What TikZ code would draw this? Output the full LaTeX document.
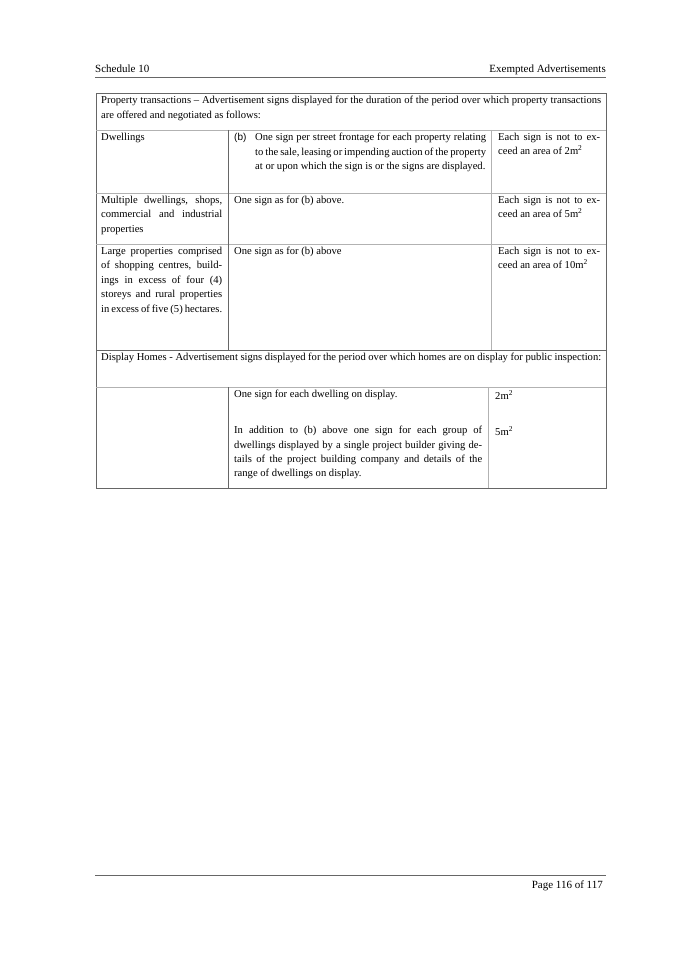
\documentclass[tikz,border=0pt]{standalone}
\usepackage{fontspec}
\setmainfont{Liberation Serif}
\newfontfamily\labelfont{Liberation Sans}
\usetikzlibrary{positioning}
\tikzset{Cell/.style = {anchor=north west, inner sep=0pt, align=justify, font=\fontsize{10.6}{14.4}\selectfont},
         Rule/.style = {draw=black!60, line width=0.5pt},
         Thin/.style = {draw=black!30, line width=0.4pt}}
\begin{document}
\begin{tikzpicture}[x=1pt, y=-1pt]
\useasboundingbox (0,0) rectangle (675,955);

%% ------------------------------------------------------------------ [ Header ]
\node (sched) [anchor=base west, inner sep=0pt, font=\fontsize{11}{13}\selectfont] at (95,73) {Schedule 10};
\node (title) [anchor=base east, inner sep=0pt, font=\fontsize{11}{13}\selectfont] at (606,73) {Exempted Advertisements};
\draw [Rule] (95,77) -- (606,77);

%% ------------------------------------------------------------------- [ Table ]
\draw [Rule] (96,93) rectangle (606,488);
\foreach \y in {130,193,244,387} \draw [Thin] (96,\y) -- (606,\y);
\draw [Rule] (96,350) -- (606,350);
\draw [Rule] (228,130) -- (228,350);
\draw [Thin] (491,130) -- (491,350);
\draw [Rule] (228,387) -- (228,488);
\draw [Thin] (488,387) -- (488,488);

\node (trans) [Cell, text width=500pt] at (101,96) {Property transactions -- Advertisement signs displayed for the duration of the period over which property transactions are offered and negotiated as follows:};

\node (dwell)   [Cell, text width=121pt] at (101,133) {Dwellings};
\node (bmark)   [Cell, font=\labelfont\fontsize{10}{14.4}\selectfont] at (234,133) {(b)};
\node (bsign)   [Cell, text width=231pt] at (255,133) {One sign per street frontage for each property relating to the sale, leasing or impending auction of the property at or upon which the sign is or the signs are displayed.};
\node (area2)   [Cell, text width=102pt] at (498,133) {Each sign is not to exceed an area of 2m\textsuperscript{2}};

\node (multi)   [Cell, text width=121pt] at (101,196) {Multiple dwellings, shops, commercial and industrial properties};
\node (asb)     [Cell, text width=252pt] at (234,196) {One sign as for (b) above.};
\node (area5)   [Cell, text width=102pt] at (498,196) {Each sign is not to exceed an area of 5m\textsuperscript{2}};

\node (large)   [Cell, text width=121pt] at (101,247) {Large properties comprised of shopping centres, buildings in excess of four (4) storeys and rural properties in excess of five (5) hectares.};
\node (asb2)    [Cell, text width=252pt] at (234,247) {One sign as for (b) above};
\node (area10)  [Cell, text width=102pt] at (498,247) {Each sign is not to exceed an area of 10m\textsuperscript{2}};

\node (display) [Cell, text width=500pt] at (101,353) {Display Homes - Advertisement signs displayed for the period over which homes are on display for public inspection:};

\node (eachd)   [Cell, text width=248pt] at (234,390) {One sign for each dwelling on display.};
\node (dm2)     [Cell] at (495,390) {2m\textsuperscript{2}};
\node (group)   [Cell, text width=248pt] at (234,426) {In addition to (b) above one sign for each group of dwellings displayed by a single project builder giving details of the project building company and details of the range of dwellings on display.};
\node (dm5)     [Cell] at (495,426) {5m\textsuperscript{2}};

%% ------------------------------------------------------------------ [ Footer ]
\draw [Rule] (95,875) -- (606,875);
\node (page) [anchor=base east, inner sep=0pt, font=\fontsize{11}{13}\selectfont] at (603,888) {Page 116 of 117};
\end{tikzpicture}
\end{document}
